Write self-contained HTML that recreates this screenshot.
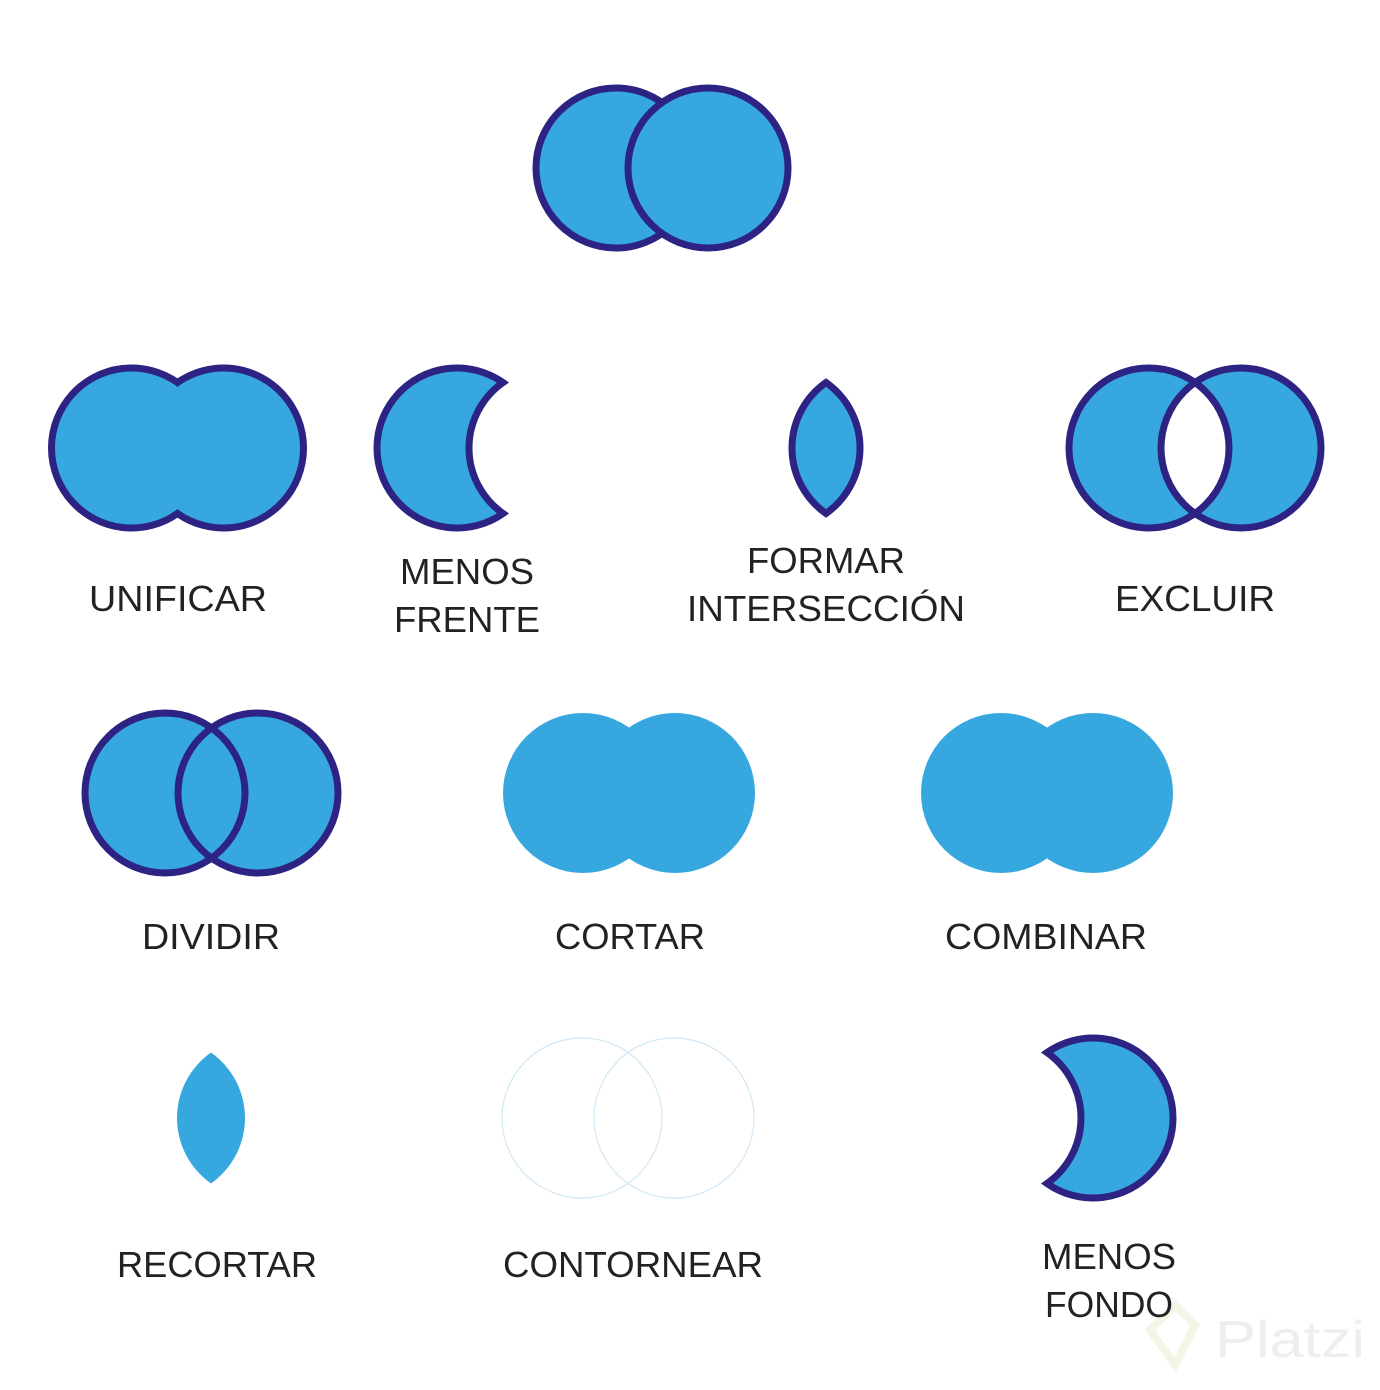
<!DOCTYPE html>
<html><head><meta charset="utf-8"><style>
html,body{margin:0;padding:0;background:#fff;}
svg{display:block}
text{font-family:"Liberation Sans",sans-serif;font-size:36px;fill:#222;text-anchor:middle;}
</style></head><body>
<svg width="1380" height="1390" viewBox="0 0 1380 1390">
<path d="M1150,1330 L1175,1305 L1195,1325 L1175,1365 Z" fill="none" stroke="#f1f6e6" stroke-width="8"/>
<text x="1290" y="1357" style="font-size:52px;fill:#eeeeee" textLength="150" lengthAdjust="spacingAndGlyphs">Platzi</text>
<g fill="#37a8df" stroke="#2d2383" stroke-width="7">
<circle cx="616" cy="168" r="80"/>
<circle cx="708" cy="168" r="80"/>
<path d="M177.5,382.55 A80,80 0 1 0 177.5,513.45 A80,80 0 1 0 177.5,382.55 Z"/>
<path d="M503,382.55 A80,80 0 1 0 503,513.45 A80,80 0 0 1 503,382.55 Z"/>
<path d="M826,382.55 A80,80 0 0 1 826,513.45 A80,80 0 0 1 826,382.55 Z"/>
<circle cx="1149" cy="448" r="80" stroke="none"/>
<circle cx="1241" cy="448" r="80" stroke="none"/>
<path d="M1195,382.55 A80,80 0 0 1 1195,513.45 A80,80 0 0 1 1195,382.55 Z" fill="#fff" stroke="none"/>
<circle cx="1149" cy="448" r="80" fill="none"/>
<circle cx="1241" cy="448" r="80" fill="none"/>
<circle cx="165" cy="793" r="80" stroke="none"/>
<circle cx="258" cy="793" r="80" stroke="none"/>
<circle cx="165" cy="793" r="80" fill="none"/>
<circle cx="258" cy="793" r="80" fill="none"/>
<path d="M1047,1052.55 A80,80 0 1 1 1047,1183.45 A80,80 0 0 0 1047,1052.55 Z"/>
</g>
<g fill="#37a8df" stroke="none">
<circle cx="583" cy="793" r="80"/>
<circle cx="675" cy="793" r="80"/>
<circle cx="1001" cy="793" r="80"/>
<circle cx="1093" cy="793" r="80"/>
<path d="M211,1052.55 A80,80 0 0 1 211,1183.45 A80,80 0 0 1 211,1052.55 Z"/>
</g>
<g fill="none" stroke="#cfe8f5" stroke-width="1.2">
<circle cx="582" cy="1118" r="80"/>
<circle cx="674" cy="1118" r="80"/>
</g>
<text x="178" y="611" textLength="178" lengthAdjust="spacingAndGlyphs">UNIFICAR</text>
<text x="467" y="584" textLength="134" lengthAdjust="spacingAndGlyphs">MENOS</text>
<text x="467" y="632" textLength="146" lengthAdjust="spacingAndGlyphs">FRENTE</text>
<text x="826" y="573" textLength="158" lengthAdjust="spacingAndGlyphs">FORMAR</text>
<text x="826" y="621" textLength="278" lengthAdjust="spacingAndGlyphs">INTERSECCIÓN</text>
<text x="1195" y="611" textLength="160" lengthAdjust="spacingAndGlyphs">EXCLUIR</text>
<text x="211" y="949" textLength="138" lengthAdjust="spacingAndGlyphs">DIVIDIR</text>
<text x="630" y="949" textLength="150" lengthAdjust="spacingAndGlyphs">CORTAR</text>
<text x="1046" y="949" textLength="202" lengthAdjust="spacingAndGlyphs">COMBINAR</text>
<text x="217" y="1277" textLength="200" lengthAdjust="spacingAndGlyphs">RECORTAR</text>
<text x="633" y="1277" textLength="260" lengthAdjust="spacingAndGlyphs">CONTORNEAR</text>
<text x="1109" y="1269" textLength="134" lengthAdjust="spacingAndGlyphs">MENOS</text>
<text x="1109" y="1317" textLength="128" lengthAdjust="spacingAndGlyphs">FONDO</text>
</svg>
</body></html>
